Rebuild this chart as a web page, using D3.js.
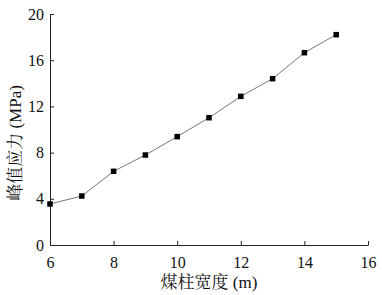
<!DOCTYPE html>
<html><head><meta charset="utf-8">
<script src="https://cdn.jsdelivr.net/npm/d3@7"></script>
<style>body{margin:0;background:#fff}svg{display:block}</style>
</head><body>
<script>
const widths = [6, 7, 8, 9, 10, 11, 12, 13, 14, 15];
const peakStress = [3.55, 4.24, 6.38, 7.79, 9.38, 11.02, 12.87, 14.40, 16.65, 18.21];
const xTicks = [6, 8, 10, 12, 14, 16];
const yTicks = [0, 4, 8, 12, 16, 20];
const xLabel = "煤柱宽度 (m)";
const yLabel = "峰值应力 (MPa)";

const W = 382, H = 295;
const m = {left: 50, right: 14, top: 14, bottom: 50};
const svg = d3.select("body").append("svg").attr("width", W).attr("height", H);
const x = d3.scaleLinear().domain([6, 16]).range([m.left, W - m.right]);
const y = d3.scaleLinear().domain([0, 20]).range([H - m.bottom, m.top]);
const font = "'Liberation Serif','Times New Roman','Noto Serif CJK SC','Noto Sans CJK SC',serif";

const gx = svg.append("g").attr("transform", `translate(0,${H - m.bottom})`)
  .call(d3.axisBottom(x).tickValues(xTicks).tickSizeInner(-4).tickSizeOuter(0).tickPadding(8));
const gy = svg.append("g").attr("transform", `translate(${m.left},0)`)
  .call(d3.axisLeft(y).tickValues(yTicks).tickSizeInner(-4).tickSizeOuter(0).tickPadding(6));
[gx, gy].forEach(g => {
  g.select(".domain").attr("stroke", "#222").attr("stroke-width", 1);
  g.selectAll(".tick line").attr("stroke", "#222");
  g.selectAll("text").attr("font-family", font).attr("font-size", 16).attr("fill", "#111");
});
gx.selectAll("text").attr("dy", "0.95em");

const pts = widths.map((d, i) => [d, peakStress[i]]);
svg.append("path").datum(pts)
  .attr("fill", "none").attr("stroke", "#777").attr("stroke-width", 1)
  .attr("d", d3.line().x(d => x(d[0])).y(d => y(d[1])));
svg.append("g").selectAll("rect").data(pts).join("rect")
  .attr("x", d => x(d[0]) - 2.75).attr("y", d => y(d[1]) - 2.75)
  .attr("width", 5.5).attr("height", 5.5).attr("fill", "#000");

svg.append("text").attr("x", 209).attr("y", 288).attr("text-anchor", "middle")
  .attr("font-family", font).attr("font-size", 17).attr("fill", "#111").text(xLabel);
svg.append("text").attr("transform", "translate(21,143) rotate(-90)").attr("text-anchor", "middle")
  .attr("font-family", font).attr("font-size", 17).attr("fill", "#111").text(yLabel);
</script>
</body></html>
